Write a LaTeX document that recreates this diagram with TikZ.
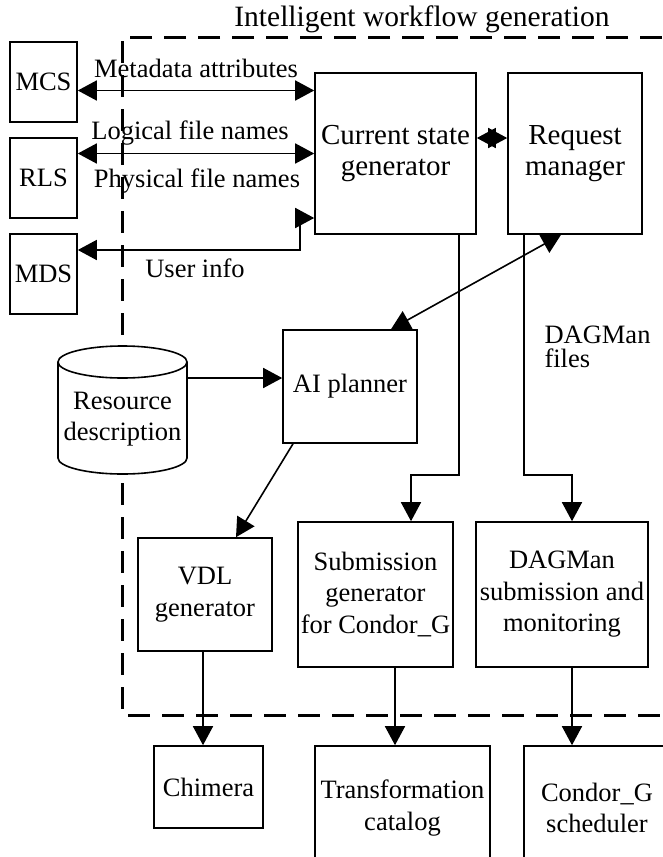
\documentclass[tikz,border=0pt]{standalone}
\usepackage{fontspec}
\setmainfont{Liberation Serif}
\usetikzlibrary{arrows.meta,calc}

\begin{document}
\begin{tikzpicture}[
    x=1pt, y=-1pt,
    font=\fontsize{26.5}{31.5}\selectfont,
    block/.style={rectangle, draw, line width=1.6pt, fill=white, inner sep=0pt, align=center},
    arrow/.style={-{Triangle[length=19pt,width=20pt]}, line width=1.6pt},
    dblarrow/.style={{Triangle[length=19pt,width=20pt]}-{Triangle[length=19pt,width=20pt]}, line width=1.6pt},
    frame/.style={line width=3pt, dash pattern=on 22pt off 12pt}
]
\useasboundingbox (0,0) rectangle (662,857);

% Workflow generation boundary
\draw[frame] (662,37) -- (122,37) -- (122,715) -- (662,715);
\node[font=\fontsize{29.5}{32}\selectfont] (title) at (422,19) {Intelligent workflow generation};

% External services
\node[block, minimum width=67pt, minimum height=80pt] (mcs) at (43.5,82) {MCS};
\node[block, minimum width=67pt, minimum height=80pt] (rls) at (43.5,178) {RLS};
\node[block, minimum width=67pt, minimum height=80pt] (mds) at (43.5,274) {MDS};

% Resource description store
\draw[line width=1.6pt, fill=white] (58,362) -- (58,458) arc[start angle=180, end angle=0, x radius=64.5, y radius=16]
    -- (187,362) arc[start angle=0, end angle=-180, x radius=64.5, y radius=16] -- cycle;
\draw[line width=1.6pt] (58,362) arc[start angle=180, end angle=0, x radius=64.5, y radius=16];
\node[inner sep=0pt, minimum width=129pt, minimum height=110pt, align=center] (res) at (122.5,419) {Resource\\description};

% Generators
\node[block, minimum width=161pt, minimum height=161pt, font=\fontsize{29}{31}\selectfont] (csg) at (395.5,153.5) {Current state\\generator};
\node[block, minimum width=134pt, minimum height=161pt, font=\fontsize{29}{31}\selectfont] (rm) at (575,153.5) {Request\\manager};
\node[block, minimum width=134pt, minimum height=113pt] (ai) at (350,386.5) {AI planner};
\node[block, minimum width=134pt, minimum height=113pt] (vdl) at (205,594.5) {VDL\\generator};
\node[block, minimum width=155pt, minimum height=145pt] (sub) at (375.5,594.5) {Submission\\generator\\for Condor\_G};
\node[block, minimum width=172pt, minimum height=145pt] (dag) at (562,594.5) {DAGMan\\submission and\\monitoring};

% Outside components
\node[block, minimum width=109pt, minimum height=82pt] (chim) at (208.5,787) {Chimera};
\node[block, minimum width=175pt, minimum height=124pt] (tc) at (402.5,808) {Transformation\\catalog};
\node[block, minimum width=146pt, minimum height=124pt] (cgs) at (597,808) {Condor\_G\\scheduler};

% Labels
\node (meta) at (196,68) {Metadata attributes};
\node (lfn) at (190,133) {Logical file names};
\node (pfn) at (197,181) {Physical file names};
\node (uinfo) at (195,268) {User info};
\node[anchor=north west, align=left, font=\fontsize{26.5}{24.5}\selectfont] (dfiles) at (541,322) {DAGMan\\files};

% Arrows
\coordinate (ucorner) at (300,218);
\draw[dblarrow] ([yshift=-8.5pt]mcs.east) -- ([yshift=-8.5pt]mcs.east -| csg.west);
\draw[dblarrow] (rls.east |- csg.west) -- (csg.west);
\draw[dblarrow] ([yshift=24pt]mds.east) -| (ucorner) -- (ucorner -| csg.west);
\draw[dblarrow] ([yshift=15.5pt]csg.east) -- ([yshift=15.5pt]csg.east -| rm.west);
\draw[dblarrow] ([xshift=41pt]ai.north) -- ([xshift=-14pt]rm.south);
\draw[arrow] ([yshift=41pt]res.east) -- ([yshift=41pt]res.east -| ai.west);
\draw[arrow] ([xshift=-57pt]ai.south) -- ([xshift=31pt]vdl.north);
\draw[arrow] ([xshift=63.5pt]csg.south) -- ++(0,240) -| ([xshift=35.5pt]sub.north);
\draw[arrow] ([xshift=-51pt]rm.south) -- ++(0,240) -| ([xshift=10pt]dag.north);
\draw[arrow] ([xshift=-2pt]vdl.south) -- ([xshift=-2pt]vdl.south |- chim.north);
\draw[arrow] ([xshift=19.5pt]sub.south) -- ([xshift=19.5pt]sub.south |- tc.north);
\draw[arrow] ([xshift=10pt]dag.south) -- ([xshift=10pt]dag.south |- cgs.north);
\end{tikzpicture}
\end{document}
